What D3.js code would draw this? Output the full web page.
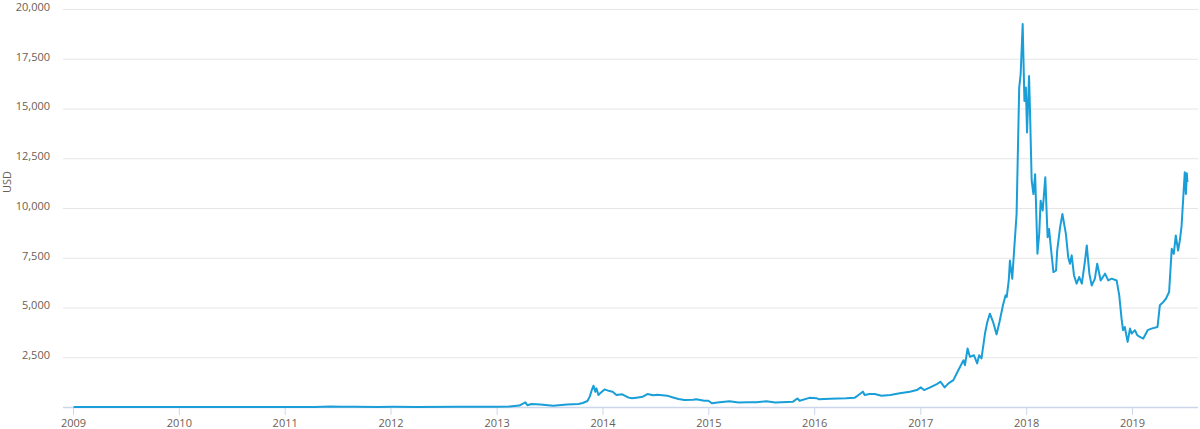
<!DOCTYPE html>
<html>
<head>
<meta charset="utf-8">
<script src="https://cdn.jsdelivr.net/npm/d3@7"></script>
<style>
  body { margin: 0; background: #fff; }
  text { font-family: "Open Sans", "DejaVu Sans", sans-serif; }
</style>
</head>
<body>
<svg id="chart" width="1200" height="429"></svg>
<script>
// market price (USD)
const dates = [
    "2009-01-03", "2009-07-01", "2010-01-01", "2010-07-17", "2010-11-06", "2011-01-01",
    "2011-02-10", "2011-04-15", "2011-06-08", "2011-07-15", "2011-09-01", "2011-11-18",
    "2012-01-08", "2012-04-01", "2012-08-16", "2012-10-15", "2013-01-01", "2013-02-15",
    "2013-03-20", "2013-04-10", "2013-04-17", "2013-05-01", "2013-06-01", "2013-07-15",
    "2013-09-01", "2013-10-10", "2013-10-25", "2013-11-10", "2013-11-18", "2013-11-25",
    "2013-12-01", "2013-12-07", "2013-12-11", "2013-12-18", "2013-12-26", "2014-01-08",
    "2014-01-25", "2014-02-05", "2014-02-18", "2014-03-10", "2014-04-01", "2014-04-12",
    "2014-04-28", "2014-05-20", "2014-06-05", "2014-06-25", "2014-07-10", "2014-08-12",
    "2014-09-01", "2014-09-20", "2014-10-10", "2014-11-10", "2014-11-20", "2014-12-18",
    "2015-01-01", "2015-01-14", "2015-02-01", "2015-03-15", "2015-04-15", "2015-05-15",
    "2015-06-15", "2015-07-20", "2015-08-20", "2015-09-10", "2015-10-20", "2015-11-04",
    "2015-11-12", "2015-12-15", "2016-01-10", "2016-01-16", "2016-02-25", "2016-04-20",
    "2016-05-20", "2016-05-28", "2016-06-17", "2016-06-23", "2016-07-10", "2016-07-28",
    "2016-08-20", "2016-09-20", "2016-10-22", "2016-11-26", "2016-12-20", "2017-01-03",
    "2017-01-14", "2017-02-04", "2017-02-27", "2017-03-11", "2017-03-26", "2017-04-08",
    "2017-04-25", "2017-05-12", "2017-05-30", "2017-06-04", "2017-06-13", "2017-06-21",
    "2017-07-05", "2017-07-16", "2017-07-23", "2017-07-31", "2017-08-12", "2017-08-20",
    "2017-08-29", "2017-09-09", "2017-09-21", "2017-10-01", "2017-10-13", "2017-10-22",
    "2017-10-26", "2017-11-02", "2017-11-06", "2017-11-14", "2017-11-22", "2017-11-29",
    "2017-12-08", "2017-12-13", "2017-12-20", "2017-12-26", "2017-12-31", "2018-01-04",
    "2018-01-11", "2018-01-14", "2018-01-20", "2018-01-26", "2018-02-01", "2018-02-09",
    "2018-02-15", "2018-02-20", "2018-02-27", "2018-03-08", "2018-03-16", "2018-03-21",
    "2018-03-27", "2018-04-05", "2018-04-14", "2018-04-18", "2018-04-28", "2018-05-06",
    "2018-05-18", "2018-05-26", "2018-06-01", "2018-06-07", "2018-06-15", "2018-06-24",
    "2018-07-03", "2018-07-12", "2018-07-23", "2018-07-29", "2018-08-07", "2018-08-15",
    "2018-08-26", "2018-09-03", "2018-09-15", "2018-09-30", "2018-10-11", "2018-10-23",
    "2018-11-09", "2018-11-18", "2018-11-26", "2018-12-01", "2018-12-07", "2018-12-17",
    "2018-12-25", "2018-12-31", "2019-01-11", "2019-01-19", "2019-01-28", "2019-02-09",
    "2019-02-24", "2019-03-09", "2019-03-30", "2019-04-07", "2019-04-19", "2019-04-28",
    "2019-05-09", "2019-05-18", "2019-05-25", "2019-06-01", "2019-06-09", "2019-06-15",
    "2019-06-21", "2019-07-02", "2019-07-06", "2019-07-09", "2019-07-11"
];

const prices = [
    0, 0, 0, 0.05, 0.4, 0.3,
    1, 1, 30, 14, 8, 2,
    7, 5, 13, 12, 13, 27,
    70, 235, 85, 150, 125, 65,
    130, 150, 200, 300, 520, 850,
    1070, 770, 935, 600, 720, 885,
    800, 770, 600, 635, 470, 435,
    470, 520, 650, 590, 620, 570,
    480, 400, 350, 370, 385, 315,
    315, 185, 230, 285, 225, 240,
    240, 285, 230, 240, 270, 430,
    315, 460, 440, 390, 420, 440,
    470, 550, 770, 600, 650, 650,
    570, 600, 690, 770, 850, 985,
    850, 985, 1150, 1270, 985, 1190,
    1350, 1850, 2350, 2100, 2940, 2520,
    2600, 2190, 2600, 2440, 3690, 4270,
    4690, 4270, 3650, 4270, 5110, 5610,
    5530, 6360, 7360, 6450, 8200, 9700,
    16050, 16720, 19250, 15380, 16050, 13790,
    16630, 15040, 11370, 10700, 11700, 7700,
    8700, 10370, 9870, 11540, 8530, 8950,
    8030, 6780, 6860, 7860, 9030, 9700,
    8700, 7530, 7200, 7620, 6610, 6200,
    6530, 6200, 7360, 8120, 6700, 6100,
    6450, 7200, 6360, 6700, 6360, 6450,
    6360, 5610, 4440, 3860, 4020, 3270,
    3940, 3690, 3860, 3610, 3520, 3440,
    3860, 3940, 4020, 5110, 5280, 5440,
    5780, 7950, 7700, 8620, 7860, 8370,
    9100, 11800, 10700, 11750, 11300
];

const yTicks = [2500, 5000, 7500, 10000, 12500, 15000, 17500, 20000];
const xTicks = ["2009", "2010", "2011", "2012", "2013", "2014", "2015", "2016", "2017", "2018", "2019"];
const yTitle = "USD";

const svg = d3.select("#chart");
const plotLeft = 63, plotRight = 1198, plotTop = 9, plotBottom = 407;
const labelColor = "#6a6055";

const parseDate = d3.utcParse("%Y-%m-%d");
const parseYear = d3.utcParse("%Y");

let data = dates.map(function (d, i) {
    return { date: parseDate(d), value: prices[i] };
});

let x = d3.scaleUtc()
    .domain([parseYear("2009"), parseYear("2019")])
    .range([73, 1132]);

let y = d3.scaleLinear()
    .domain([0, 20000])
    .range([plotBottom, plotTop]);

//Horizontal grid and y labels
let yAxis = svg.append("g")
    .attr("transform", "translate(" + plotLeft + ",0)")
    .call(d3.axisLeft(y)
        .tickValues(yTicks)
        .tickSize(-(plotRight - plotLeft))
        .tickPadding(13)
        .tickFormat(d3.format(",")));

yAxis.select(".domain").remove();
yAxis.selectAll(".tick line")
    .attr("stroke", "#e6e6e6");
yAxis.selectAll(".tick text")
    .attr("fill", labelColor)
    .attr("font-size", "11px")
    .attr("dy", "0.12em");

//Axis title
svg.append("text")
    .attr("transform", "translate(11,182) rotate(-90)")
    .attr("text-anchor", "middle")
    .attr("fill", labelColor)
    .attr("font-size", "11px")
    .text(yTitle);

//x axis line
svg.append("line")
    .attr("x1", plotLeft)
    .attr("x2", plotRight)
    .attr("y1", plotBottom + 0.5)
    .attr("y2", plotBottom + 0.5)
    .attr("stroke", "#ccd6eb")
    .attr("stroke-width", 1.5);

let xAxis = svg.append("g")
    .attr("transform", "translate(0," + plotBottom + ")")
    .call(d3.axisBottom(x)
        .tickValues(xTicks.map(parseYear))
        .tickSize(8)
        .tickPadding(4)
        .tickFormat(d3.utcFormat("%Y")));

xAxis.select(".domain").remove();
xAxis.selectAll(".tick line")
    .attr("stroke", "#ccd6eb");
xAxis.selectAll(".tick text")
    .attr("fill", labelColor)
    .attr("font-size", "11px");

//Price line
let line = d3.line()
    .x(function (d) { return x(d.date); })
    .y(function (d) { return y(d.value); });

svg.append("path")
    .datum(data)
    .attr("d", line)
    .attr("fill", "none")
    .attr("stroke", "#1a9ed8")
    .attr("stroke-width", 2)
    .attr("stroke-linejoin", "round");
</script>
</body>
</html>
